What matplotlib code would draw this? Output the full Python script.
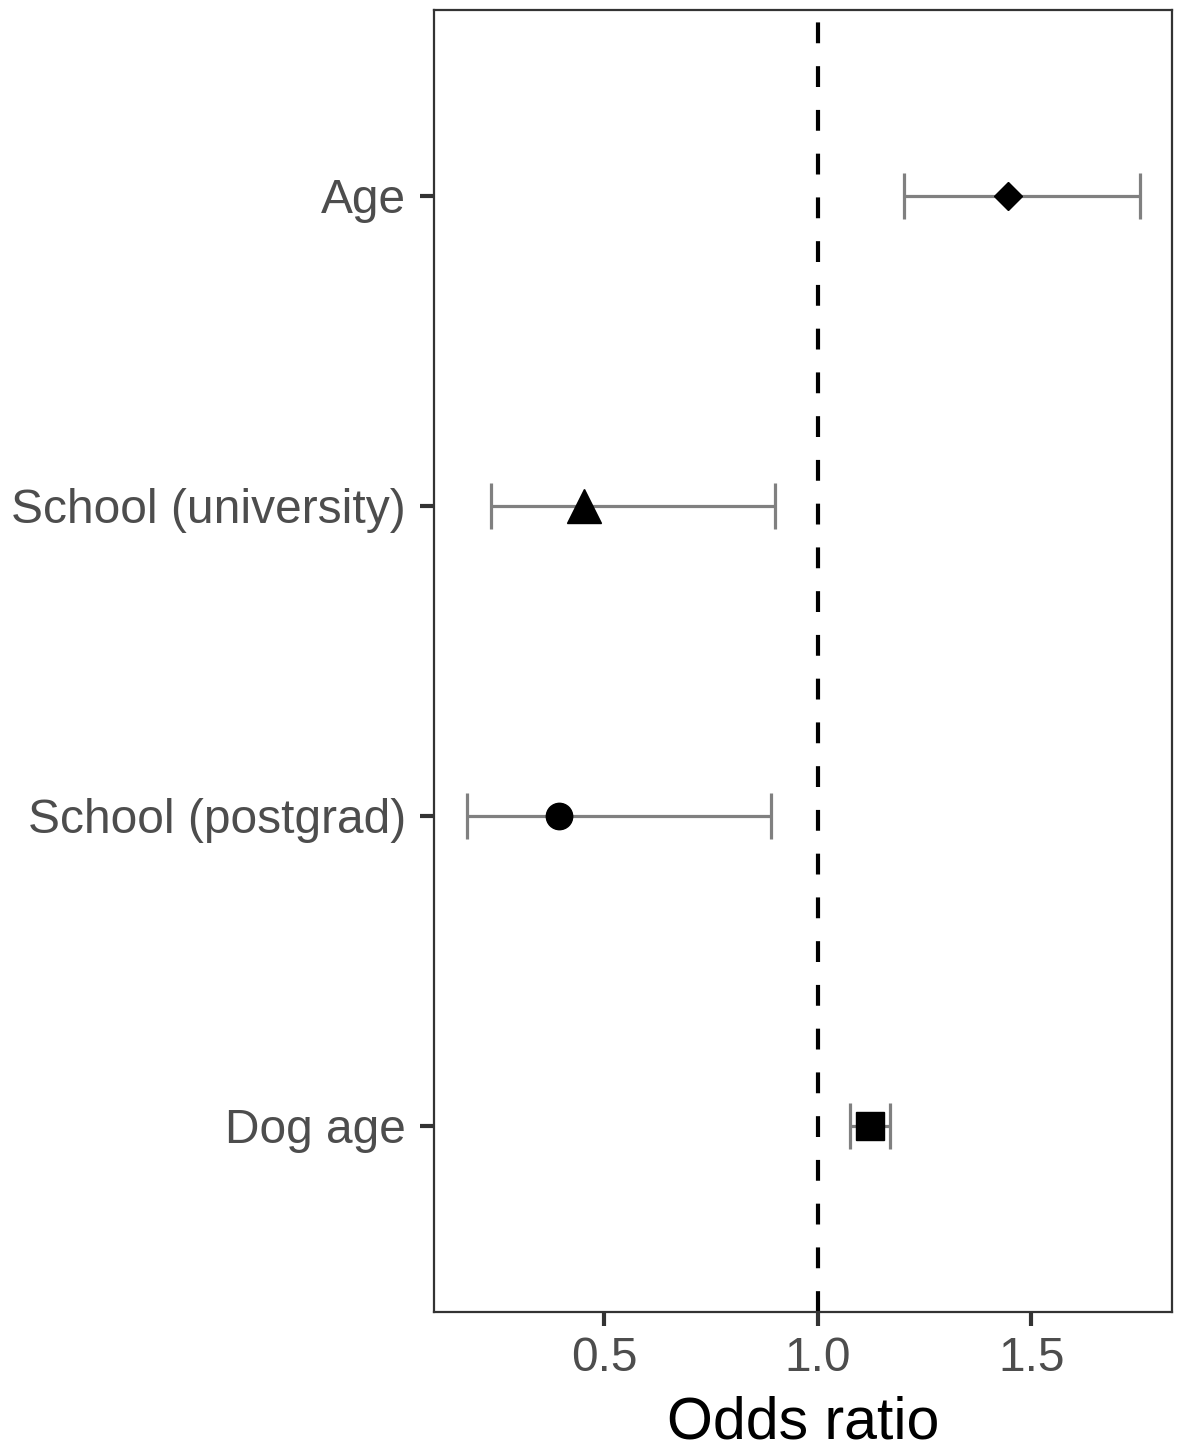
import matplotlib
matplotlib.use("Agg")
import matplotlib.pyplot as plt

plt.rcParams['font.family'] = ['Liberation Sans', 'DejaVu Sans']

# odds ratios with 95% CI, top to bottom
labels = ["Age", "School (university)", "School (postgrad)", "Dog age"]
odds = [1.445, 0.452, 0.393, 1.122]
ci_low = [1.201, 0.234, 0.178, 1.075]
ci_high = [1.754, 0.899, 0.890, 1.169]
markers = ["D", "^", "o", "s"]
marker_sizes = [14, 24, 19, 20]
xticks = [0.5, 1.0, 1.5]

fig = plt.figure(figsize=(11.78, 14.5), dpi=100)
ax = fig.add_axes([0.3684, 0.0952, 0.6265, 0.8979])

n = len(labels)
ypos = [n - i for i in range(n)]

ax.axvline(1.0, color="black", lw=3, dashes=(5, 5.5), zorder=1)

for y, o, lo, hi, m, ms in zip(ypos, odds, ci_low, ci_high, markers, marker_sizes):
    ax.errorbar(o, y, xerr=[[o - lo], [hi - o]], fmt="none", ecolor="#808080",
                elinewidth=2.3, capsize=16.5, capthick=2.3, zorder=2)
    ax.plot(o, y, marker=m, color="black", markersize=ms, linestyle="none", zorder=3)

ax.set_xlim(0.101, 1.829)
ax.set_ylim(0.4, 4.6)
ax.set_yticks(ypos)
ax.set_yticklabels(labels)
ax.set_xticks(xticks)
ax.set_xticklabels([f"{t:.1f}" for t in xticks])

for s in ax.spines.values():
    s.set_color("#333333")
    s.set_linewidth(1.6)

ax.tick_params(axis="both", colors="#333333", width=3, length=10, labelsize=34.5,
               labelcolor="#4D4D4D", pad=7)
ax.tick_params(axis="y", pad=10)
ax.set_xlabel("Odds ratio", fontsize=42.5, color="black", labelpad=11)

fig.savefig("out.png", dpi=100)
